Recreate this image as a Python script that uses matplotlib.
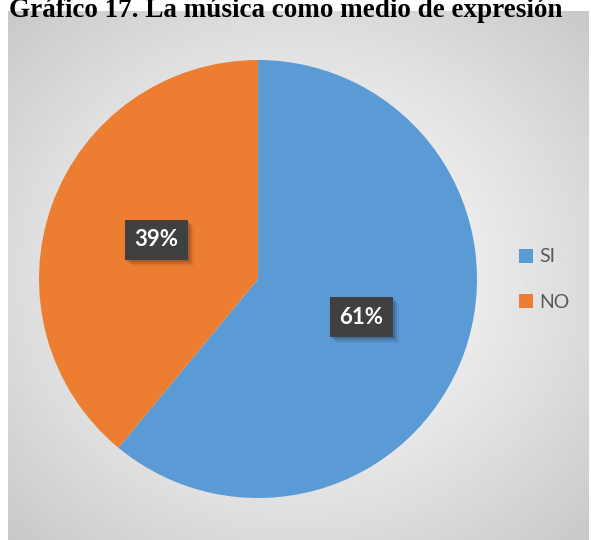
import numpy as np
import matplotlib.pyplot as plt

labels = ["SI", "NO"]
values = [61, 39]
colors = ["#5B9BD5", "#ED7D31"]
title = "Gráfico 17. La música como medio de expresión"

W, H = 591, 540
fig = plt.figure(figsize=(W / 100, H / 100), dpi=100)
fig.patch.set_facecolor("white")

# fondo con degradado radial (marco del grafico)
fx0, fy0, fx1, fy1 = 8, 11, 589, 540
bg = fig.add_axes([fx0 / W, 1 - fy1 / H, (fx1 - fx0) / W, (fy1 - fy0) / H])
yy, xx = np.mgrid[0:1:300j, 0:1:300j]
r = np.sqrt(((xx - 0.5) / 0.75) ** 2 + ((yy - 0.5) / 0.75) ** 2)
shade = 1.0 - 0.23 * np.clip(r, 0, 1) ** 1.2
bg.imshow(shade, cmap="gray", vmin=0, vmax=1, extent=[0, 1, 0, 1], aspect="auto")
bg.set_axis_off()

# titulo (recortado arriba como en la imagen)
fig.text(286 / W, 1 - 17 / H, title, ha="center", va="baseline",
         fontsize=19.5, fontweight="bold", family="Liberation Serif", color="black")

# pastel
cx, cy, rad = 258, 279, 219
ax = fig.add_axes([(cx - rad) / W, 1 - (cy + rad) / H, 2 * rad / W, 2 * rad / H])
ax.pie(values, colors=colors, startangle=90, counterclock=False,
       wedgeprops=dict(linewidth=0))
ax.set_xlim(-1, 1)
ax.set_ylim(-1, 1)
ax.set_aspect("auto")
ax.set_axis_off()

# etiquetas de porcentaje con caja oscura y sombra
label_pos = [(361, 317), (156, 240)]
bw, bh = 63, 40
for v, (px, py) in zip(values, label_pos):
    for k, a in [(6, 0.06), (4, 0.10), (2, 0.14)]:
        fig.patches.append(plt.Rectangle(((px - bw / 2 + k) / W, 1 - (py + bh / 2 + k) / H),
                                         bw / W, bh / H, transform=fig.transFigure,
                                         facecolor="black", alpha=a, edgecolor="none",
                                         figure=fig, zorder=4))
    fig.patches.append(plt.Rectangle(((px - bw / 2) / W, 1 - (py + bh / 2) / H),
                                     bw / W, bh / H, transform=fig.transFigure,
                                     facecolor="#404040", edgecolor="none",
                                     figure=fig, zorder=5))
    fig.text(px / W, 1 - py / H, f"{v}%", ha="center", va="center", fontsize=16,
             fontweight="bold", color="white", family="Lato", zorder=6)

# leyenda
for i, (lab, col) in enumerate(zip(labels, colors)):
    ly = 256 + i * 45
    fig.patches.append(plt.Rectangle((519 / W, 1 - (ly + 7) / H), 14 / W, 14 / H,
                                     transform=fig.transFigure, facecolor=col,
                                     edgecolor="none", figure=fig))
    fig.text(539 / W, 1 - (ly + 1) / H, lab, ha="left", va="center", fontsize=14,
             color="#595959", family="Lato")

fig.savefig("out.png", dpi=100)
